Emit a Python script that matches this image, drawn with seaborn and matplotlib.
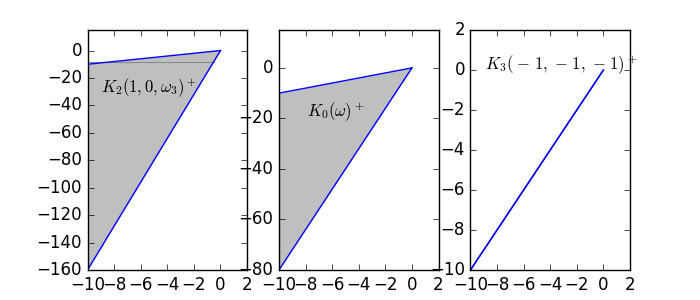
import matplotlib
matplotlib.use("Agg")
import matplotlib.pyplot as plt
import seaborn as sns
import numpy as np

plt.style.use("classic")
plt.rcParams["figure.facecolor"] = "white"
plt.rcParams["savefig.facecolor"] = "white"
plt.rcParams["mathtext.fontset"] = "cm"

x = [-10, 0]
upper1 = [-10, 0]
lower1 = [-160, 0]
upper2 = [-10, 0]
lower2 = [-80, 0]
upper3 = [-10, 0]
lower3 = [-10, 0]
seam_x = [-10, -0.52]
seam_y = [-8.3, -8.3]

labels = [r"$K_2(1,0,\omega_3)^+$", r"$K_0(\omega)^+$",
          r"$K_3(\hspace{0.1}-\hspace{0.1}1, \hspace{0.1}-\hspace{0.1}1, \hspace{0.1}-\hspace{0.1}1)^+$"]
label_pos = [(-8.95, -26.8), (-7.87, -17.2), (-8.87, 0.29)]
ylims = [(-160, 15), (-80, 15), (-10, 2)]
yticks = [np.arange(-160, 1, 20), np.arange(-80, 1, 20), np.arange(-10, 3, 2)]

fig, axes = plt.subplots(1, 3, figsize=(7, 3), dpi=100)
data = [(upper1, lower1), (upper2, lower2), (upper3, lower3)]
for i, (ax, (up, lo)) in enumerate(zip(axes, data)):
    ax.fill_between(x, lo, up, color="0.75", linewidth=0)
    if i == 0:
        ax.plot(seam_x, seam_y, color="0.55", linewidth=0.8)
    sns.lineplot(x=x, y=up, ax=ax, color="b", linewidth=1)
    sns.lineplot(x=x, y=lo, ax=ax, color="b", linewidth=1)
    ax.set_xlim(-10, 2)
    ax.set_ylim(*ylims[i])
    ax.set_xticks(np.arange(-10, 3, 2))
    ax.set_yticks(yticks[i])
    ax.text(label_pos[i][0], label_pos[i][1], labels[i], fontsize=12,
            ha="left", va="center")

fig.savefig("out.png", dpi=100)
